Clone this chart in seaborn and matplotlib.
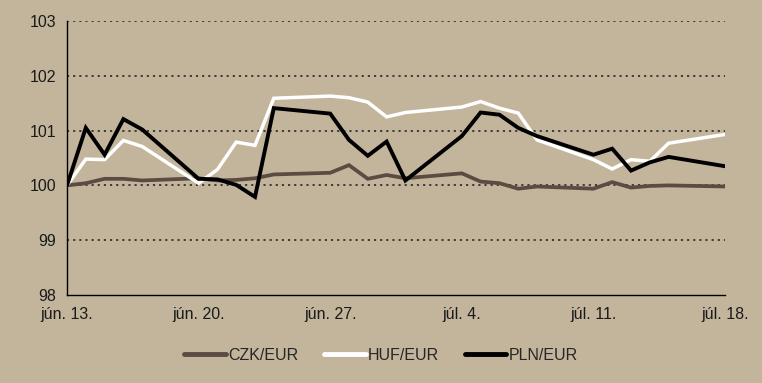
import numpy as np
import pandas as pd
import matplotlib
matplotlib.use("Agg")
import matplotlib.pyplot as plt
import seaborn as sns

# trading days (day offset from jún. 13.)
days = [0, 1, 2, 3, 4, 7, 8, 9, 10, 11, 14, 15, 16, 17, 18, 21, 22, 23, 24, 25,
        28, 29, 30, 31, 32, 35]
czk = [100.00, 100.04, 100.12, 100.12, 100.09, 100.13, 100.09, 100.10, 100.13, 100.20,
       100.23, 100.37, 100.12, 100.19, 100.13, 100.22, 100.07, 100.04, 99.94, 99.98,
       99.94, 100.06, 99.96, 99.99, 100.00, 99.98]
huf = [100.00, 100.48, 100.47, 100.82, 100.71, 100.04, 100.29, 100.79, 100.73, 101.59,
       101.63, 101.60, 101.52, 101.25, 101.33, 101.43, 101.53, 101.41, 101.32, 100.83,
       100.47, 100.30, 100.47, 100.44, 100.77, 100.93]
pln = [100.00, 101.05, 100.56, 101.21, 101.02, 100.12, 100.11, 100.01, 99.79, 101.41,
       101.31, 100.83, 100.54, 100.80, 100.09, 100.90, 101.33, 101.29, 101.05, 100.90,
       100.56, 100.67, 100.27, 100.42, 100.52, 100.35]
series_names = ["CZK/EUR", "HUF/EUR", "PLN/EUR"]
tick_days = [0, 7, 14, 21, 28, 35]
tick_labels = ["jún. 13.", "jún. 20.", "jún. 27.", "júl. 4.", "júl. 11.", "júl. 18."]
y_ticks = [98, 99, 100, 101, 102, 103]

df = pd.concat([
    pd.DataFrame({"day": days, "value": v, "series": n})
    for n, v in zip(series_names, [czk, huf, pln])
])

bg = "#C3B59B"
sns.set_theme(style="white")
plt.rcParams["font.family"] = ["Liberation Sans", "DejaVu Sans"]

fig = plt.figure(figsize=(7.62, 3.83), dpi=100, facecolor=bg)
ax = fig.add_axes([67/762, 1-295/383, (725-67)/762, (295-21)/383])
ax.set_facecolor(bg)

palette = {"CZK/EUR": "#5C4B42", "HUF/EUR": "#FFFFFF", "PLN/EUR": "#000000"}
for y in [99, 100, 101, 102, 103]:
    ax.axhline(y, color="#333333", lw=1.3, ls=(0, (1.2, 2.2)), zorder=1)

sns.lineplot(data=df, x="day", y="value", hue="series", palette=palette,
             linewidth=2.6, ax=ax, legend=False, zorder=3)
for line, lw in zip(ax.get_lines()[-3:], [2.7, 2.5, 2.8]):
    line.set_linewidth(lw)
    line.set_solid_joinstyle("miter")

ax.set_xlim(0, 35)
ax.set_ylim(98, 103)
ax.set_xticks(range(0, 36), minor=True)
ax.set_xticks(tick_days)
ax.set_xticklabels(tick_labels)
ax.set_yticks(y_ticks)
ax.set_yticklabels([str(t) for t in y_ticks])
ax.set_xlabel("")
ax.set_ylabel("")
for s in ["top", "right"]:
    ax.spines[s].set_visible(False)
for s in ["left", "bottom"]:
    ax.spines[s].set_color("black")
    ax.spines[s].set_linewidth(1.0)
ax.tick_params(axis="both", which="both", direction="out", color="black",
               labelsize=11.5, labelcolor="#1a1a1a", width=1.0)
ax.tick_params(axis="x", which="major", length=4, pad=5)
ax.tick_params(axis="x", which="minor", length=4)
ax.tick_params(axis="y", which="major", length=4, pad=4)

from matplotlib.lines import Line2D
handles = [Line2D([], [], color=palette[n], lw=3.5) for n in series_names]
fig.legend(handles, series_names, loc="center", bbox_to_anchor=(0.50, 1-355/383),
           ncol=3, frameon=False, fontsize=11.5, handlelength=2.6,
           handletextpad=0.15, columnspacing=1.6)

fig.savefig("out.png", dpi=100, facecolor=bg)
